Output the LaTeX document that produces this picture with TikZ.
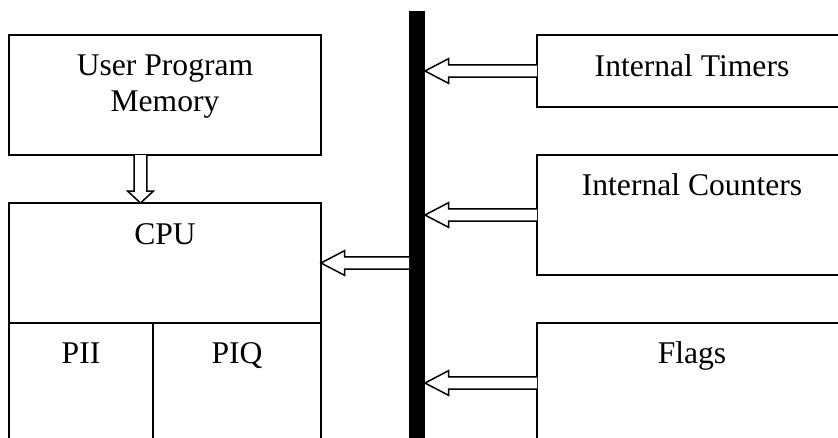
\documentclass[tikz,border=0pt]{standalone}
\usepackage{fontspec}
\setmainfont{Liberation Serif}
\usetikzlibrary{calc}
\tikzset{
  box/.style={draw=black, line width=1.8pt, rectangle, inner sep=0pt, outer sep=0pt, anchor=north west},
  lbl/.style={font=\fontsize{31.6pt}{36.7pt}\selectfont, inner sep=0pt, outer sep=0pt, anchor=base, align=center},
  busbar/.style={fill=black, draw=none, rectangle, inner sep=0pt, outer sep=0pt, anchor=north west},
  fatarr/.style={draw=black, fill=white, line width=1.5pt, line join=miter, miter limit=10},
}
\newcommand\fatarrow[5]{%
  \path ($(#2)!#5!(#1)$) coordinate (fah);
  \draw[fatarr] ($(#1)!#3!-90:(fah)$) -- ($(fah)!#3!90:(#1)$) -- ($(fah)!#4!90:(#1)$) -- (#2) -- ($(fah)!#4!-90:(#1)$) -- ($(fah)!#3!-90:(#1)$) -- ($(#1)!#3!90:(fah)$);
}
\begin{document}
\begin{tikzpicture}[x=1pt,y=-1pt]
\useasboundingbox (0,0) rectangle (838,437);
\clip (0,0) rectangle (838,437);
% boxes
\node[box, minimum width=312pt, minimum height=120pt] (mem) at (9,35) {};
\node[box, minimum width=312pt, minimum height=120pt] (cpu) at (9,203) {};
\node[box, minimum width=144pt, minimum height=140pt] (pii) at (9,323) {};
\node[box, minimum width=168pt, minimum height=140pt] (piq) at (153,323) {};
\node[busbar, minimum width=16pt, minimum height=450pt] (bus) at (409,11) {};
\node[box, minimum width=330pt, minimum height=72pt] (timers) at (537,35) {};
\node[box, minimum width=330pt, minimum height=120pt] (counters) at (537,155) {};
\node[box, minimum width=330pt, minimum height=140pt] (flags) at (537,323) {};
% labels
\node[lbl] (memtxt) at (165,111.7) {User Program\\Memory};
\node[lbl] (cputxt) at (165,244) {CPU};
\node[lbl] (piitxt) at (81,363) {PII};
\node[lbl] (piqtxt) at (237,363) {PIQ};
\node[lbl] (timtxt) at (692,76.7) {Internal Timers};
\node[lbl] (cnttxt) at (692,195) {Internal Counters};
\node[lbl] (flgtxt) at (692,363) {Flags};
% connector end points
\coordinate (mt) at ([xshift=131.5pt]mem.south west);
\coordinate (mh) at (mt |- cpu.north);
\coordinate (tt) at (timers.west -| bus.east);
\coordinate (ct) at (counters.west -| bus.east);
\coordinate (ft0) at ([yshift=-60pt]flags.north west);
\coordinate (ft) at (ft0 -| bus.east);
\coordinate (cb) at (cpu.east -| bus.west);
% arrows
\fatarrow{mt}{mh}{6.3pt}{13pt}{12pt}
\fatarrow{timers.west}{tt}{6.2pt}{12.3pt}{23.5pt}
\fatarrow{counters.west}{ct}{6.2pt}{12.3pt}{23.5pt}
\fatarrow{ft0}{ft}{6.2pt}{12.3pt}{23.5pt}
\fatarrow{cb}{cpu.east}{6.2pt}{12.3pt}{23.5pt}
\end{tikzpicture}
\end{document}
